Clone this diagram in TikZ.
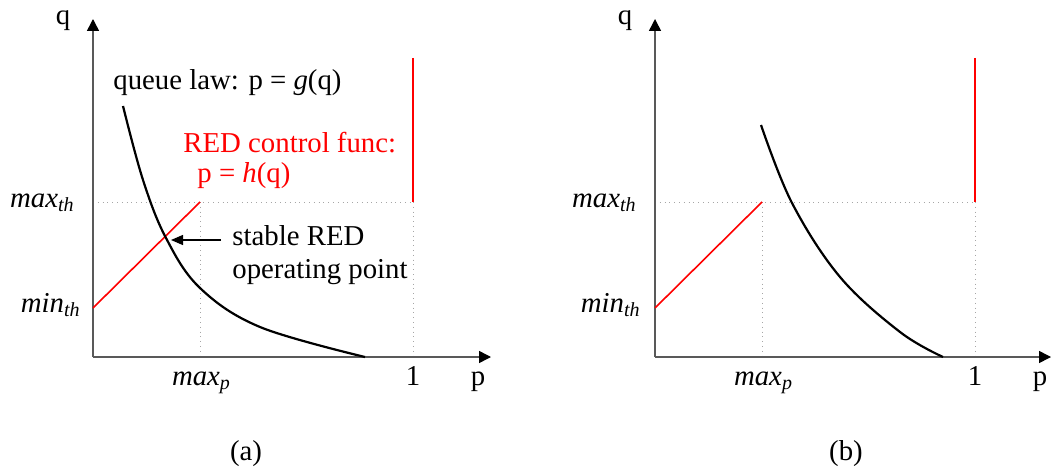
\documentclass[tikz,border=0pt]{standalone}
\usepackage{fontspec}
\setmainfont{Liberation Serif}
\usetikzlibrary{arrows.meta}
\newcommand{\sublab}[2]{\textit{#1}\raisebox{-0.35ex}{\fontsize{10}{11}\selectfont\textit{#2}}}
\begin{document}
\begin{tikzpicture}[x=0.5pt,y=-0.5pt,
  every node/.style={font=\fontsize{14.4}{17}\selectfont, inner sep=0pt},
  axis/.style={draw=black!65, line width=0.75pt, -{Triangle[length=6pt,width=6pt,black]}},
  guide/.style={draw=black!35, line width=0.4pt, dotted},
  redline/.style={draw=red, line width=0.8pt},
  curve/.style={draw=black, line width=1.1pt},
  ptr/.style={draw=black, line width=0.6pt, -{Triangle[length=6pt,width=5pt]}}]
\useasboundingbox (0,0) rectangle (1052,470);
\fill[white] (0,0) rectangle (1052,470);

% ---------- panel (a) ----------
\coordinate (aO) at (93,357);
\coordinate (aYt) at (93,19);
\coordinate (aXt) at (491,357);
\coordinate (aMin) at (93,308);
\coordinate (aMaxTh) at (93,202);
\coordinate (aMaxP) at (200,202);
\coordinate (aMaxPb) at (200,357);
\coordinate (aOne) at (413,202);
\coordinate (aOneb) at (413,357);
\coordinate (aRtop) at (413,58);

\draw[guide] (aMaxTh) -- (aOne);
\draw[guide] (aMaxP) -- (aMaxPb);
\draw[guide] (aOne) -- (aOneb);
\draw[axis] (aO) -- (aYt);
\draw[axis] (aO) -- (aXt);
\draw[redline] (aMin) -- (aMaxP);
\draw[redline] (aRtop) -- (aOne);
\draw[curve] plot[smooth, tension=0.6] coordinates {(123,106) (143,180) (166,238) (200,288) (260,327) (365,357)};

\node[anchor=base] (aq) at (63,25) {q};
\node[anchor=base] (ap) at (478,385) {p};
\node[anchor=base] (a1) at (413,385) {1};
\node[anchor=base] (amaxp) at (201,385) {\sublab{max}{p}};
\node[anchor=base east] (amaxth) at (74,207) {\sublab{max}{th}};
\node[anchor=base east] (aminth) at (80,312) {\sublab{min}{th}};
\node[anchor=base west] (qlaw) at (113,90) {queue law: p = \textit{g}(q)};
\node[anchor=base west, text=red] (redf) at (183,153) {RED control func:};
\node[anchor=base west, text=red] (redh) at (197,183) {p = \textit{h}(q)};
\node[anchor=base west] (st1) at (232,245) {stable RED};
\node[anchor=base west] (st2) at (232,278) {operating point};
\coordinate (arrS) at (221,240);
\coordinate (arrE) at (171,240);
\draw[ptr] (arrS) -- (arrE);
\node[anchor=base] (capa) at (246,460) {(a)};

% ---------- panel (b) ----------
\coordinate (bO) at (655,357);
\coordinate (bYt) at (655,19);
\coordinate (bXt) at (1051,357);
\coordinate (bMin) at (655,308);
\coordinate (bMaxTh) at (655,202);
\coordinate (bMaxP) at (762,202);
\coordinate (bMaxPb) at (762,357);
\coordinate (bOne) at (975,202);
\coordinate (bOneb) at (975,357);
\coordinate (bRtop) at (975,58);

\draw[guide] (bMaxTh) -- (bOne);
\draw[guide] (bMaxP) -- (bMaxPb);
\draw[guide] (bOne) -- (bOneb);
\draw[axis] (bO) -- (bYt);
\draw[axis] (bO) -- (bXt);
\draw[redline] (bMin) -- (bMaxP);
\draw[redline] (bRtop) -- (bOne);
\draw[curve] plot[smooth, tension=0.6] coordinates {(761,125) (792,203) (840,277) (900,332) (943,357)};

\node[anchor=base] (bq) at (625,25) {q};
\node[anchor=base] (bp) at (1040,385) {p};
\node[anchor=base] (b1) at (975,385) {1};
\node[anchor=base] (bmaxp) at (763,385) {\sublab{max}{p}};
\node[anchor=base east] (bmaxth) at (636,207) {\sublab{max}{th}};
\node[anchor=base east] (bminth) at (640,312) {\sublab{min}{th}};
\node[anchor=base] (capb) at (846,460) {(b)};
\end{tikzpicture}
\end{document}
